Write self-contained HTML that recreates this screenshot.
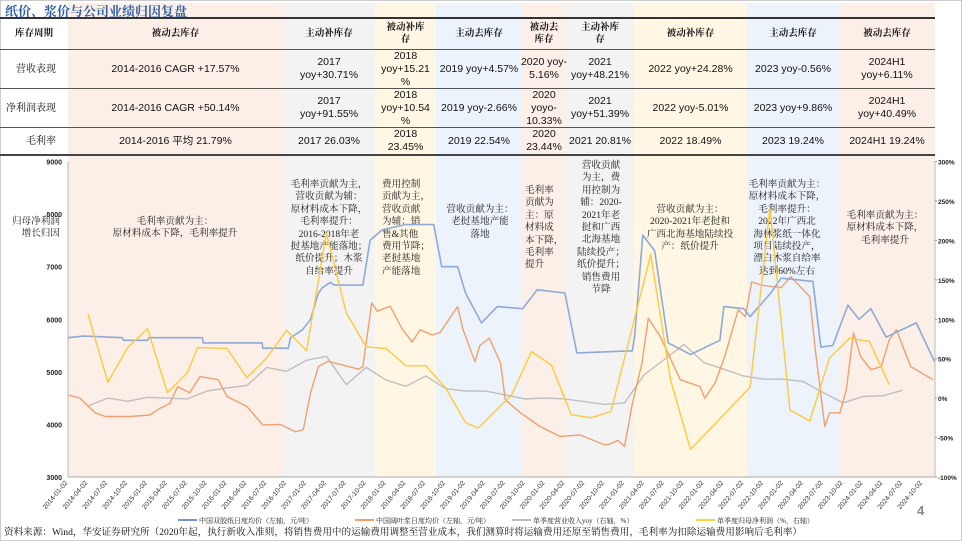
<!DOCTYPE html>
<html><head><meta charset="utf-8">
<style>
body{margin:0;width:962px;height:541px;overflow:hidden;background:#fff;font-family:"Liberation Sans","Noto Sans CJK SC",sans-serif;position:relative}
.abs{position:absolute}
.band{position:absolute;top:3px;height:474px}
.cell{position:absolute;display:flex;align-items:center;justify-content:center;text-align:center;font-size:10.5px;line-height:13px;color:#111;white-space:nowrap}
.hd{font-family:"Liberation Serif","Noto Serif CJK SC",serif;font-weight:bold;font-size:9.5px;line-height:12px}
.hl{position:absolute;left:0;width:935px;height:1px;background:#555}
.ann{position:absolute;font-family:"Liberation Serif","Noto Serif CJK SC",serif;font-size:9.6px;line-height:12.4px;color:#222;white-space:nowrap}
</style></head><body>
<div class="abs" style="left:0;top:0;width:960px;height:539px;border:1px solid #ccc"></div>
<div class="band" style="left:68px;width:215px;background:#fbefe7"></div>
<div class="band" style="left:283px;width:92px;background:#f3f3f3"></div>
<div class="band" style="left:375px;width:61px;background:#fff7e3"></div>
<div class="band" style="left:436px;width:86px;background:#edf3fb"></div>
<div class="band" style="left:522px;width:44px;background:#fbefe7"></div>
<div class="band" style="left:566px;width:68px;background:#f3f3f3"></div>
<div class="band" style="left:634px;width:113px;background:#fff7e3"></div>
<div class="band" style="left:747px;width:92px;background:#edf3fb"></div>
<div class="band" style="left:839px;width:96px;background:#fbefe7"></div>

<div class="abs" style="left:5px;top:1px;font-family:'Liberation Serif','Noto Serif CJK SC',serif;font-weight:bold;font-size:13px;color:#2e5fa8">纸价、浆价与公司业绩归因复盘</div>

<div class="hl" style="top:17px;height:1.5px;background:#333"></div>
<div class="hl" style="top:49px"></div>
<div class="hl" style="top:88px"></div>
<div class="hl" style="top:127px"></div>
<div class="hl" style="top:154px;height:1.5px;background:#444"></div>

<div id="tbl"></div>
<div id="anns"></div>

<svg id="chart" class="abs" style="left:0;top:0" width="962" height="541"></svg>

<div class="abs" style="left:917px;top:503px;font-size:13px;font-weight:bold;color:#888">4</div>
<div class="abs" style="left:4px;top:524px;font-family:'Liberation Serif','Noto Serif CJK SC',serif;font-size:9.6px;color:#111;white-space:nowrap">资料来源：Wind，华安证券研究所（2020年起，执行新收入准则，将销售费用中的运输费用调整至营业成本，我们测算时将运输费用还原至销售费用，毛利率为扣除运输费用影响后毛利率）</div>

<script>
// ---- table data ----
const colEdges=[0,68,283,375,436,522,566,634,747,839,935];
const headers=["库存周期","被动去库存","主动补库存","被动补库<br>存","主动去库存","被动去<br>库存","主动补库<br>存","被动补库存","主动去库存","被动去库存"];
const revenueRow=["营收表现","2014-2016 CAGR +17.57%","2017<br>yoy+30.71%","2018<br>yoy+15.21<br>%","2019 yoy+4.57%","2020 yoy-<br>5.16%","2021<br>yoy+48.21%","2022 yoy+24.28%","2023 yoy-0.56%","2024H1<br>yoy+6.11%"];
const profitRow=["净利润表现","2014-2016 CAGR +50.14%","2017<br>yoy+91.55%","2018<br>yoy+10.54<br>%","2019 yoy-2.66%","2020<br>yoyo-<br>10.33%","2021<br>yoy+51.39%","2022 yoy-5.01%","2023 yoy+9.86%","2024H1<br>yoy+40.49%"];
const marginRow=["毛利率","2014-2016 平均 21.79%","2017 26.03%","2018<br>23.45%","2019 22.54%","2020<br>23.44%","2021 20.81%","2022 18.49%","2023 19.24%","2024H1 19.24%"];
const rowTops=[18,50,89,128], rowHs=[31,38,38,26];
const tbl=document.getElementById('tbl');
[headers,revenueRow,profitRow,marginRow].forEach((row,r)=>{
  row.forEach((txt,c)=>{
    const d=document.createElement('div');
    d.className='cell'+(r===0?' hd':'');
    
    
    d.style.left=colEdges[c]+'px';d.style.width=(colEdges[c+1]-colEdges[c])+'px';
    d.style.top=rowTops[r]+'px';d.style.height=rowHs[r]+'px';
    if(c===0&&r>0){d.style.justifyContent='flex-end';d.style.paddingRight='6px';d.style.width='56px';d.style.fontFamily='"Liberation Serif","Noto Serif CJK SC",serif';d.style.fontSize='10px';}
    d.innerHTML=txt;tbl.appendChild(d);
  });
});
// ---- annotations ----
const annTexts=[
 [175,216,'center',["毛利率贡献为主：","原材料成本下降，毛利率提升"]],
 [329,179,'center',["毛利率贡献为主，","营收贡献为辅：","原材料成本下降，","毛利率提升：","2016-2018年老","挝基地产能落地；","纸价提升；木浆","自给率提升"]],
 [382,179,'left',["费用控制","贡献为主，","营收贡献","为辅：销","售&其他","费用节降；","老挝基地","产能落地"]],
 [480,204,'center',["营收贡献为主：","老挝基地产能","落地"]],
 [525,185,'left',["毛利率","贡献为","主：原","材料成","本下降，","毛利率","提升"]],
 [601,160,'center',["营收贡献","为主，费","用控制为","辅：2020-","2021年老","挝和广西","北海基地","陆续投产；","纸价提升；","销售费用","节降"]],
 [690,204,'center',["营收贡献为主：","2020-2021年老挝和","广西北海基地陆续投","产：纸价提升"]],
 [787,179,'center',["毛利率贡献为主：","原材料成本下降，","毛利率提升：","2022年广西北","海林浆纸一体化","项目陆续投产，","漂白木浆自给率","达到60%左右"]],
 [885,210,'center',["毛利率贡献为主：","原材料成本下降，","毛利率提升"]],
 [60,216,'right',["归母净利润","增长归因"]]
];
const anns=document.getElementById('anns');
annTexts.forEach(a=>{
  const d=document.createElement('div');d.className='ann';
  
  
  d.style.top=a[1]+'px';d.style.textAlign=a[2];
  if(a[2]==='center'){d.style.left=(a[0]-70)+'px';d.style.width='140px';}
  else if(a[2]==='left'){d.style.left=a[0]+'px';}
  else {d.style.left=(a[0]-80)+'px';d.style.width='80px';}
  d.innerHTML=a[3].join('<br>');anns.appendChild(d);
});

// ---- chart data ----
const paperDates=[2014.0,2014.2,2014.68,2014.7,2015.0,2015.02,2015.69,2015.7,2016.44,2016.45,2016.77,2016.8,2016.95,2017.05,2017.15,2017.2,2017.3,2017.35,2017.71,2017.8,2017.95,2018.24,2018.6,2018.7,2018.9,2019.0,2019.2,2019.4,2019.72,2019.9,2020.25,2020.4,2021.1,2021.13,2021.23,2021.38,2021.55,2021.83,2022.2,2022.25,2022.5,2022.58,2022.84,2022.97,2023.37,2023.47,2023.62,2023.81,2023.95,2024.1,2024.29,2024.67,2024.9];
const paperPrice=[5650,5680,5650,5600,5600,5650,5650,5550,5550,5450,5450,5650,5800,6000,6500,6600,6700,6650,6650,7500,7700,7800,7800,7000,7000,6500,5930,6240,6200,6560,6500,5360,5400,5700,7600,7300,5550,5330,5600,6240,6200,6050,6500,6780,6720,5470,5500,6270,6000,6200,5660,5930,5190];
const pulpDates=[2014.0,2014.15,2014.34,2014.47,2014.78,2015.03,2015.15,2015.28,2015.38,2015.53,2015.66,2015.89,2016.0,2016.25,2016.45,2016.67,2016.86,2016.96,2017.05,2017.15,2017.27,2017.61,2017.65,2017.71,2017.82,2017.89,2018.05,2018.21,2018.33,2018.43,2018.58,2018.68,2018.9,2018.97,2019.12,2019.18,2019.3,2019.44,2019.5,2019.69,2019.94,2020.19,2020.44,2020.75,2020.82,2020.92,2021.0,2021.0,2021.1,2021.22,2021.3,2021.45,2021.7,2021.95,2022.01,2022.14,2022.26,2022.43,2022.52,2022.6,2022.72,2022.97,2023.09,2023.33,2023.4,2023.52,2023.58,2023.71,2023.79,2023.88,2023.97,2024.1,2024.23,2024.33,2024.42,2024.6,2024.88];
const pulpPrice=[4560,4500,4220,4150,4150,4180,4300,4400,4720,4600,4910,4850,4530,4340,3990,4000,3860,3900,4600,5100,5200,5070,5050,5100,6310,6150,6250,5800,5570,5800,5700,5750,6240,5800,5190,5500,5640,5170,4470,4220,3960,3770,3800,3610,3630,3700,3580,3580,4400,5170,6020,5670,4850,4720,4500,4790,5290,6180,6050,6710,6650,6600,6810,6430,5420,3960,4220,4220,4660,5740,5290,5040,5100,5610,5800,5100,4850,4750];
const revDates=[2014.25,2014.5,2014.75,2015.0,2015.5,2015.75,2016.0,2016.25,2016.5,2016.75,2017.0,2017.25,2017.5,2017.75,2018.0,2018.25,2018.5,2018.75,2019.0,2019.25,2019.75,2020.0,2020.25,2020.75,2021.0,2021.25,2021.75,2022.0,2022.5,2022.75,2023.0,2023.25,2023.5,2023.75,2024.0,2024.25,2024.5];
const revYoy=[-10,0,-4,1,-1,9,13,16,39,34,48,53,17,39,23,15,28,12,9,9,-1,0,-1,-8,-6,30,68,45,28,24,24,21,7,-6,2,3,10];
const npDates=[2014.25,2014.5,2014.75,2015.0,2015.25,2015.5,2015.63,2016.0,2016.25,2016.5,2016.75,2017.0,2017.25,2017.5,2017.75,2018.0,2018.25,2018.5,2018.75,2019.0,2019.16,2019.58,2019.83,2020.08,2020.33,2020.58,2020.83,2021.33,2021.58,2021.83,2022.58,2022.83,2023.08,2023.33,2023.58,2023.83,2024.08,2024.33];
const npYoy=[107,20,64,88,7,32,64,63,26,51,86,60,209,108,65,63,41,41,13,-31,-38,4,59,42,-21,-25,-17,182,23,-65,14,241,-15,-29,51,76,72,17];
const leftTicks=[9000,8000,7000,6000,5000,4000,3000];
const rightTicks=[300,250,200,150,100,50,0,-50,-100];
const dateLabels=[];for(let y=2014;y<=2024;y++)for(const m of ['01','04','07','10'])dateLabels.push(y+'-'+m+'-02');

// ---- axes ----
const X0=68,X1=935,YT=161.5,YB=477;
const xs=t=>X0+(t-2014)*79.5;
const yl=v=>YB-(v-3000)/6000*(YB-YT);
const yr=v=>YB-(v+100)/400*(YB-YT);
const svg=document.getElementById('chart');
const NS='http://www.w3.org/2000/svg';
function mk(tag,attrs,parent){const e=document.createElementNS(NS,tag);for(const k in attrs)e.setAttribute(k,attrs[k]);(parent||svg).appendChild(e);return e;}
const ax=mk('line',{x1:X0,y1:YT,x2:X0,y2:YB,stroke:'#bbb','stroke-width':1});

const ax2=mk('line',{x1:X1,y1:YT,x2:X1,y2:YB,stroke:'#bbb','stroke-width':1});

const ax3=mk('line',{x1:X0,y1:YB,x2:X1,y2:YB,stroke:'#aaa','stroke-width':1});

leftTicks.forEach(v=>{const t=mk('text',{x:X0-6,y:yl(v)+3,'text-anchor':'end','font-size':7,'font-weight':'bold',fill:'#222','font-family':'Liberation Sans'});t.textContent=v;
});
rightTicks.forEach(v=>{const t=mk('text',{x:X1+3,y:yr(v)+3,'font-size':6.5,'font-weight':'bold',fill:'#222','font-family':'Liberation Sans'});t.textContent=v+'%';

const tk=mk('line',{x1:X1,y1:yr(v),x2:X1+2,y2:yr(v),stroke:'#999'});});
dateLabels.forEach((s,i)=>{const x=X0+i*19.875;const t=mk('text',{x:x,y:YB+6,'text-anchor':'end','font-size':6.8,fill:'#333','font-family':'Liberation Sans',transform:`rotate(-50 ${x} ${YB+6})`});t.textContent=s;
});
function line(d,v,ys,color,w,name){const p=d.map((t,i)=>xs(t).toFixed(1)+','+ys(v[i]).toFixed(1)).join(' ');
const e=mk('polyline',{points:p,fill:'none',stroke:color,'stroke-width':w,'stroke-linejoin':'round'});
}
line(revDates,revYoy,yr,'#bfbfbf',1.4,'revenue-yoy-line');
line(pulpDates,pulpPrice,yl,'#f0a070',1.4,'pulp-price-line');
line(paperDates,paperPrice,yl,'#8eaad8',1.6,'paper-price-line');
line(npDates,npYoy,yr,'#ffc93c',1.4,'net-profit-yoy-line');
// legend
const legend=[[178,'#4472c4','中国双胶纸日度均价（左轴，元/吨）'],[355,'#ed7d31','中国阔叶浆日度均价（左轴，元/吨）'],[512,'#a5a5a5','单季度营业收入yoy（右轴，%）'],[696,'#ffc000','单季度归母净利润（%，右轴）']];
legend.forEach(l=>{const g=mk('g',{});
mk('line',{x1:l[0],y1:520,x2:l[0]+19,y2:520,stroke:l[1],'stroke-width':1.5},g);
const t=mk('text',{x:l[0]+21,y:523,'font-size':7,fill:'#222','font-family':'Liberation Serif, Noto Serif CJK SC, serif'},g);t.textContent=l[2];});
</script>
</body></html>
